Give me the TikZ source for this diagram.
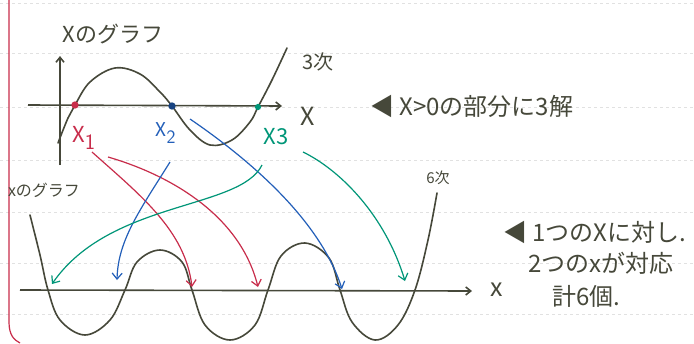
\documentclass[tikz,border=0pt]{standalone}
\usepackage{fontspec}
\newfontfamily\jp{Noto Sans CJK JP}
\usetikzlibrary{arrows.meta}
\definecolor{ink}{RGB}{70,72,58}
\definecolor{rd}{RGB}{200,45,75}
\definecolor{bl}{RGB}{35,95,185}
\definecolor{tl}{RGB}{0,150,120}
\definecolor{rule}{RGB}{225,225,225}
\tikzset{
  curveline/.style={ink,line width=1.6pt,line cap=round},
  axisline/.style={ink,line width=1.6pt,-{Straight Barb[length=5pt,width=8pt]}},
  maparrow/.style={line width=1.2pt,-{Straight Barb[length=6pt,width=10pt]}},
  lbl/.style={ink,font=\jp\fontsize{22}{24}\selectfont,inner sep=0pt},
  note/.style={ink,font=\jp\fontsize{24}{26}\selectfont,inner sep=0pt,anchor=west},
}
\begin{document}
\begin{tikzpicture}[x=1pt,y=-1pt]
\useasboundingbox (0,0) rectangle (694,343);
\fill[white] (0,0) rectangle (694,343);
% ruled lines
\foreach \yy in {3,53,107,160,212,263,314}
  \draw[rule,dashed,line width=0.6pt] (0,\yy) -- (694,\yy);
% red margin
\draw[rd,line width=1.2pt] (9,0) -- (9,322) .. controls (9,335) and (14,340) .. (20,343);
% top graph
\coordinate (ya0) at (60,165); \coordinate (ya1) at (60,56);
\coordinate (xa0) at (28,105); \coordinate (xa1) at (282,106);
\draw[axisline] (ya0) -- (ya1);
\draw[axisline] (xa0) -- (xa1);
\draw[curveline] plot[smooth,tension=0.6] coordinates {(58,143) (68,118) (75,105) (90,82) (115,68) (140,74) (160,92) (172,106) (190,130) (210,145) (232,140) (250,122) (258,107) (272,80) (287,48)};
\node[circle,fill=rd,inner sep=2.6pt] (p1) at (75,105) {};
\node[circle,fill=bl!70!black,inner sep=2.6pt] (p2) at (172,106) {};
\node[circle,fill=tl,inner sep=2.2pt] (p3) at (258,107) {};
\node[lbl] (t1) at (113,34) {Xのグラフ};
\node[lbl,font=\jp\fontsize{20}{22}\selectfont] (t2) at (318,62) {3次};
\node[lbl,font=\jp\fontsize{25}{27}\selectfont] (t3) at (308,116) {X};
\node[lbl,rd] (x1) at (84,138) {X$_{\textsf{1}}$};
\node[lbl,bl,font=\jp\fontsize{19}{21}\selectfont] (x2) at (166,133) {X$_{\textsf{2}}$};
\node[lbl,tl] (x3) at (276,137) {X3};
\node[note] (n1) at (370,106) {◀ X>0の部分に3解};
% bottom graph
\coordinate (xb0) at (20,290); \coordinate (xb1) at (472,291);
\draw[axisline] (xb0) -- (xb1);
\draw[curveline] plot[smooth,tension=0.6] coordinates {(30,215) (40,255) (48,290) (60,320) (85,335) (110,320) (125,290) (137,262) (160,250) (182,262) (192,290) (205,325) (230,340) (255,325) (268,290) (281,256) (305,243) (329,258) (340,290) (352,322) (375,340) (398,325) (415,290) (428,240) (437,193)};
\node[lbl,font=\jp\fontsize{16}{18}\selectfont] (t4) at (44,190) {xのグラフ};
\node[lbl,font=\jp\fontsize{15}{17}\selectfont] (t5) at (438,178) {6次};
\node[lbl,font=\jp\fontsize{25}{27}\selectfont] (t6) at (497,290) {x};
\node[note] (n2) at (503,232) {◀ 1つのXに対し.};
\node[note] (n3) at (528,263) {2つのxが対応};
\node[note] (n4) at (552,296) {計6個.};
% target points
\coordinate (r1) at (192,287); \coordinate (r2) at (258,287);
\coordinate (b1) at (117,280); \coordinate (b2) at (342,289);
\coordinate (g1) at (52,284); \coordinate (g2) at (405,281);
\coordinate (rs1) at (92,152); \coordinate (rs2) at (108,157);
\coordinate (bs1) at (170,162); \coordinate (bs2) at (190,119);
\coordinate (gs1) at (262,165); \coordinate (gs2) at (303,152);
\draw[maparrow,rd] (rs1) .. controls (140,195) and (185,230) .. (r1);
\draw[maparrow,rd] (rs2) .. controls (170,175) and (240,215) .. (r2);
\draw[maparrow,bl] (bs1) .. controls (140,210) and (118,240) .. (b1);
\draw[maparrow,bl] (bs2) .. controls (250,160) and (320,220) .. (b2);
\draw[maparrow,tl] (gs1) .. controls (240,210) and (110,200) .. (g1);
\draw[maparrow,tl] (gs2) .. controls (340,170) and (385,215) .. (g2);
\end{tikzpicture}
\end{document}
